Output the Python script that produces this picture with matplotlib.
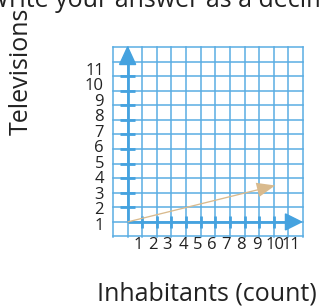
import numpy as np
import matplotlib
matplotlib.use("Agg")
import matplotlib.pyplot as plt

plt.rcParams['font.family'] = ['Open Sans', 'DejaVu Sans']

# data
x_labels = ["1", "2", "3", "4", "5", "6", "7", "8", "9", "10", "11"]
y_labels = ["1", "2", "3", "4", "5", "6", "7", "8", "9", "10", "11"]
grid_values = list(range(-1, 13))
axis_ticks = list(range(1, 11))
vec_start = (0.0, 0.0)
vec_end = (10.1, 2.5)
question = "Write your answer as a decimal."
x_title = "Inhabitants (count)"
y_title = "Televisions"

BLUE = "#45a2df"
GRID = "#5aade3"
TAN = "#d9ba8d"

fig = plt.figure(figsize=(3.21, 3.07), dpi=100)
ax = fig.add_axes([113 / 321, 1 - 236.5 / 307, 190 / 321, 189.5 / 307])
ax.set_xlim(-1, 12)
ax.set_ylim(-1, 12)
for s in ax.spines.values():
    s.set_visible(False)

# graph paper
for v in grid_values:
    ax.axvline(v, color=GRID, lw=1.1, clip_on=False, zorder=1)
    ax.axhline(v, color=GRID, lw=1.1, clip_on=False, zorder=1)

# axes with arrow heads
ax.plot([0, 0], [0, 11], color=BLUE, lw=2, zorder=3, solid_capstyle="butt")
ax.plot([0, 11], [0, 0], color=BLUE, lw=2, zorder=3, solid_capstyle="butt")
ax.add_patch(plt.Polygon([[-0.55, 10.8], [0.55, 10.8], [0, 12.0]], color=BLUE, zorder=4, clip_on=False))
ax.add_patch(plt.Polygon([[10.8, -0.55], [10.8, 0.55], [11.9, 0]], color=BLUE, zorder=4, clip_on=False))
for t in axis_ticks:
    ax.plot([-0.5, 0.5], [t, t], color=BLUE, lw=2, zorder=3, solid_capstyle="butt")
    ax.plot([t, t], [-0.4, 0.4], color=BLUE, lw=2, zorder=3, solid_capstyle="butt")

# the vector
dx = vec_end[0] - vec_start[0]
dy = vec_end[1] - vec_start[1]
ax.arrow(vec_start[0], vec_start[1], dx, dy, width=0.09, head_width=1.0,
         head_length=1.25, length_includes_head=True, color=TAN, lw=0, zorder=5)

# tick labels (placed slightly off the grid lines, like the original)
x_shift = [-0.27, -0.24, -0.28, -0.21, -0.23, -0.25, -0.24, -0.26, -0.18, 0.07, 0.2]
ax.set_xticks([i + 1 + s for i, s in enumerate(x_shift)], x_labels)
ax.set_yticks([-0.14 + 1.064 * i for i in range(len(y_labels))], y_labels)
ax.tick_params(length=0, labelsize=12, colors="#222222")
ax.tick_params(axis="x", pad=0.5)
ax.tick_params(axis="y", pad=6.5)

fig.text(21.5 / 321, 1 - 71 / 307, y_title, rotation=90, fontsize=18,
         ha="center", va="center", color="#222222")
fig.text(207 / 321, 1 - 294 / 307, x_title, fontsize=18,
         ha="center", va="center", color="#222222")
fig.text(-14 / 321, 1 - 7.3 / 307, question, fontsize=18,
         ha="left", va="baseline", color="#222222")

fig.savefig("out.png", dpi=100)
